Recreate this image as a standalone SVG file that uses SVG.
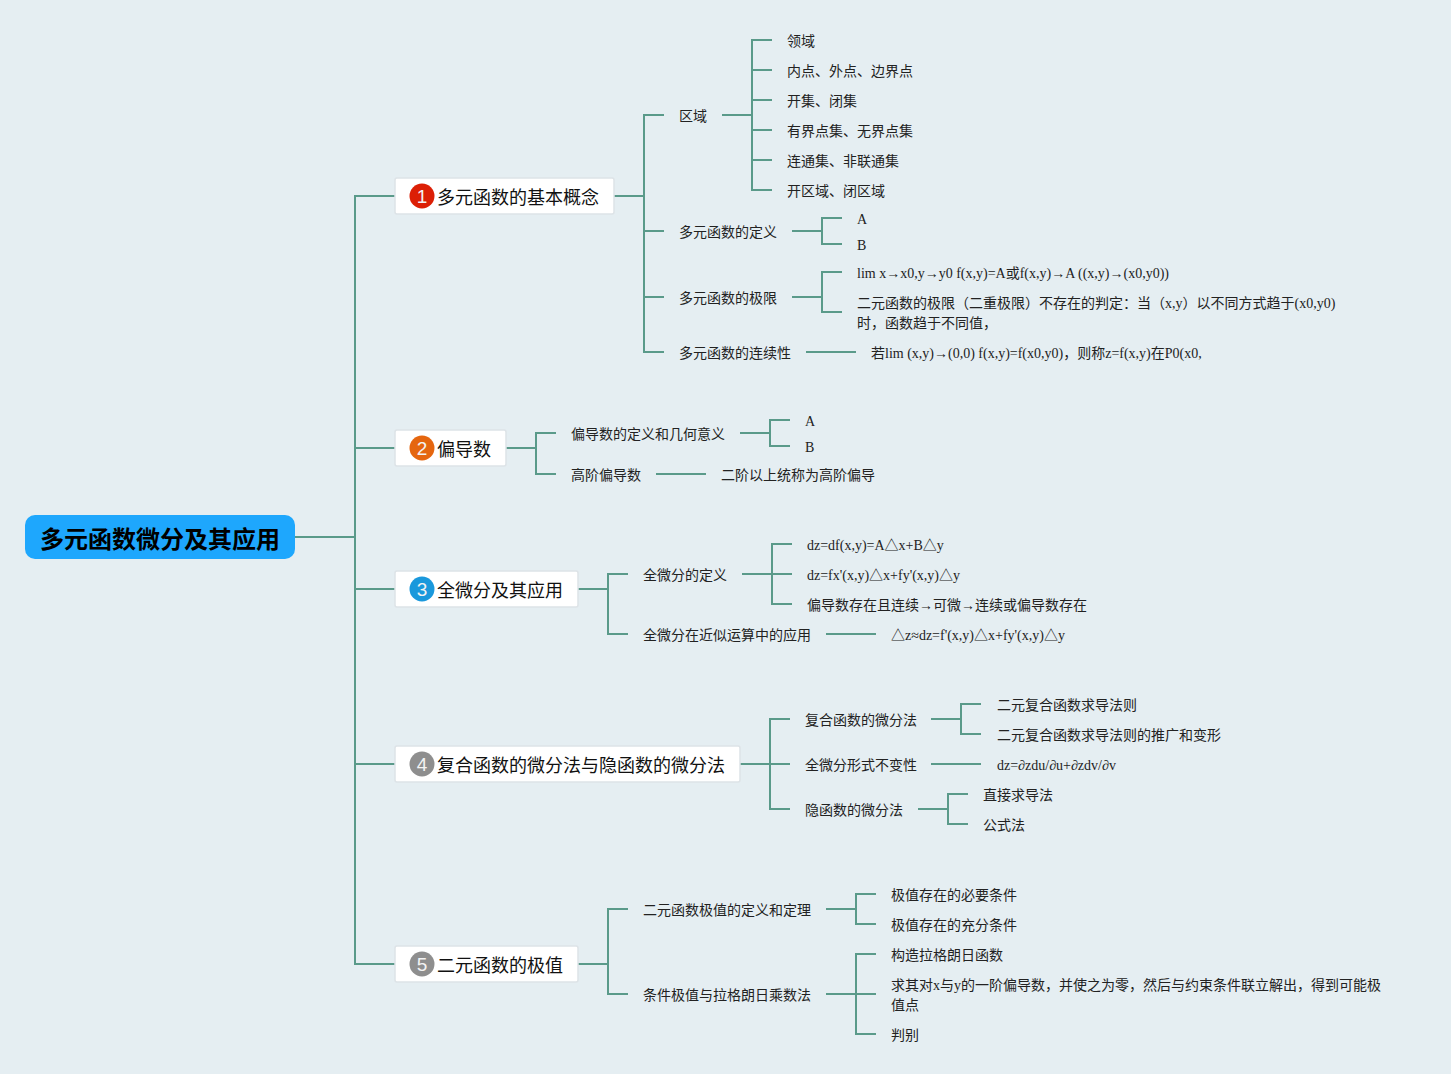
<svg xmlns="http://www.w3.org/2000/svg" width="1451" height="1074" viewBox="0 0 1451 1074">
<style>
text{font-family:"Liberation Serif","Noto Sans CJK SC",serif;fill:#222}
.s{font-size:14px}
.t{font-size:18px;font-family:"Liberation Sans","Noto Sans CJK SC",sans-serif;fill:#111}
.r{font-size:24px;font-weight:bold;fill:#000;font-family:"Liberation Sans","Noto Sans CJK SC",sans-serif}
.box{fill:#fff;stroke:#dde3e7;stroke-width:1.5}
.n{font-size:19px;fill:#f3f3f3;text-anchor:middle;font-family:"Liberation Sans",sans-serif}
#connectors path{fill:none;stroke:#5a9a8a;stroke-width:2}
</style>
<rect width="1451" height="1074" fill="#e5eef2"/>
<g id="connectors">
<path d="M295 537H355M395 196H355V964H395M355 448H395M355 589H395M355 764H395"/>
<path d="M614 196H644M664 115H644V352H664M644 231H664M644 297H664"/>
<path d="M722 115H752M772 40H752V190H772M752 70H772M752 100H772M752 130H772M752 160H772"/>
<path d="M792 231H822M842 218H822V244H842"/>
<path d="M792 297H822M842 272H822V312H842"/>
<path d="M806 352H856"/>
<path d="M506 448H536M556 433H536V474H556"/>
<path d="M740 433H770M790 420H770V446H790"/>
<path d="M656 474H706"/>
<path d="M578 589H608M628 574H608V634H628"/>
<path d="M742 574H772M792 544H772V604H792M772 574H792"/>
<path d="M826 634H876"/>
<path d="M740 764H770M790 719H770V809H790M770 764H790"/>
<path d="M931 719H961M981 704H961V734H981"/>
<path d="M931 764H981"/>
<path d="M918 809H948M968 794H948V824H968"/>
<path d="M578 964H608M628 909H608V994H628"/>
<path d="M826 909H856M876 894H856V924H876"/>
<path d="M826 994H856M876 954H856V1034H876M856 994H876"/>
</g>
<g id="root"><rect x="25" y="515" width="270" height="44" rx="10" fill="#1ea7fd"/><text class="r" x="40" y="548">多元函数微分及其应用</text></g>
<g id="topic1"><rect class="box" x="395" y="178" width="219" height="36" rx="2"/><circle cx="422" cy="196" r="12.5" fill="#dc1f05"/><text class="n" x="422" y="203">1</text><text class="t" x="437" y="204">多元函数的基本概念</text></g>
<g id="topic2"><rect class="box" x="395" y="430" width="111" height="36" rx="2"/><circle cx="422" cy="448" r="12.5" fill="#e5660f"/><text class="n" x="422" y="455">2</text><text class="t" x="437" y="456">偏导数</text></g>
<g id="topic3"><rect class="box" x="395" y="571" width="183" height="36" rx="2"/><circle cx="422" cy="589" r="12.5" fill="#1a98dc"/><text class="n" x="422" y="596">3</text><text class="t" x="437" y="597">全微分及其应用</text></g>
<g id="topic4"><rect class="box" x="395" y="746" width="345" height="36" rx="2"/><circle cx="422" cy="764" r="12.5" fill="#8e8e8e"/><text class="n" x="422" y="771">4</text><text class="t" x="437" y="772">复合函数的微分法与隐函数的微分法</text></g>
<g id="topic5"><rect class="box" x="395" y="946" width="183" height="36" rx="2"/><circle cx="422" cy="964" r="12.5" fill="#8e8e8e"/><text class="n" x="422" y="971">5</text><text class="t" x="437" y="972">二元函数的极值</text></g>
<g id="n-quyu"><text class="s" x="679" y="121">区域</text></g>
<g id="n-q1"><text class="s" x="787" y="46">领域</text></g>
<g id="n-q2"><text class="s" x="787" y="76">内点、外点、边界点</text></g>
<g id="n-q3"><text class="s" x="787" y="106">开集、闭集</text></g>
<g id="n-q4"><text class="s" x="787" y="136">有界点集、无界点集</text></g>
<g id="n-q5"><text class="s" x="787" y="166">连通集、非联通集</text></g>
<g id="n-q6"><text class="s" x="787" y="196">开区域、闭区域</text></g>
<g id="n-def"><text class="s" x="679" y="237">多元函数的定义</text></g>
<g id="n-defA"><text class="s" x="857" y="224">A</text></g>
<g id="n-defB"><text class="s" x="857" y="250">B</text></g>
<g id="n-lim"><text class="s" x="679" y="303">多元函数的极限</text></g>
<g id="n-lim1"><text class="s" x="857" y="278">lim x→x0,y→y0 f(x,y)=A或f(x,y)→A ((x,y)→(x0,y0))</text></g>
<g id="n-lim2"><text class="s" x="857" y="308">二元函数的极限（二重极限）不存在的判定：当（x,y）以不同方式趋于(x0,y0)</text><text class="s" x="857" y="328">时，函数趋于不同值，</text></g>
<g id="n-cont"><text class="s" x="679" y="358">多元函数的连续性</text></g>
<g id="n-cont1"><text class="s" x="871" y="358">若lim (x,y)→(0,0) f(x,y)=f(x0,y0)，则称z=f(x,y)在P0(x0,</text></g>
<g id="n-pd"><text class="s" x="571" y="439">偏导数的定义和几何意义</text></g>
<g id="n-pdA"><text class="s" x="805" y="426">A</text></g>
<g id="n-pdB"><text class="s" x="805" y="452">B</text></g>
<g id="n-hi"><text class="s" x="571" y="480">高阶偏导数</text></g>
<g id="n-hi1"><text class="s" x="721" y="480">二阶以上统称为高阶偏导</text></g>
<g id="n-td"><text class="s" x="643" y="580">全微分的定义</text></g>
<g id="n-td1"><text class="s" x="807" y="550">dz=df(x,y)=A△x+B△y</text></g>
<g id="n-td2"><text class="s" x="807" y="580">dz=fx'(x,y)△x+fy'(x,y)△y</text></g>
<g id="n-td3"><text class="s" x="807" y="610">偏导数存在且连续→可微→连续或偏导数存在</text></g>
<g id="n-ap"><text class="s" x="643" y="640">全微分在近似运算中的应用</text></g>
<g id="n-ap1"><text class="s" x="891" y="640">△z≈dz=f'(x,y)△x+fy'(x,y)△y</text></g>
<g id="n-cm"><text class="s" x="805" y="725">复合函数的微分法</text></g>
<g id="n-cm1"><text class="s" x="997" y="710">二元复合函数求导法则</text></g>
<g id="n-cm2"><text class="s" x="997" y="740">二元复合函数求导法则的推广和变形</text></g>
<g id="n-inv"><text class="s" x="805" y="770">全微分形式不变性</text></g>
<g id="n-inv1"><text class="s" x="997" y="770">dz=∂zdu/∂u+∂zdv/∂v</text></g>
<g id="n-imp"><text class="s" x="805" y="815">隐函数的微分法</text></g>
<g id="n-imp1"><text class="s" x="983" y="800">直接求导法</text></g>
<g id="n-imp2"><text class="s" x="983" y="830">公式法</text></g>
<g id="n-ex"><text class="s" x="643" y="915">二元函数极值的定义和定理</text></g>
<g id="n-ex1"><text class="s" x="891" y="900">极值存在的必要条件</text></g>
<g id="n-ex2"><text class="s" x="891" y="930">极值存在的充分条件</text></g>
<g id="n-la"><text class="s" x="643" y="1000">条件极值与拉格朗日乘数法</text></g>
<g id="n-la1"><text class="s" x="891" y="960">构造拉格朗日函数</text></g>
<g id="n-la2"><text class="s" x="891" y="990">求其对x与y的一阶偏导数，并使之为零，然后与约束条件联立解出，得到可能极</text><text class="s" x="891" y="1010">值点</text></g>
<g id="n-la3"><text class="s" x="891" y="1040">判别</text></g>
</svg>
